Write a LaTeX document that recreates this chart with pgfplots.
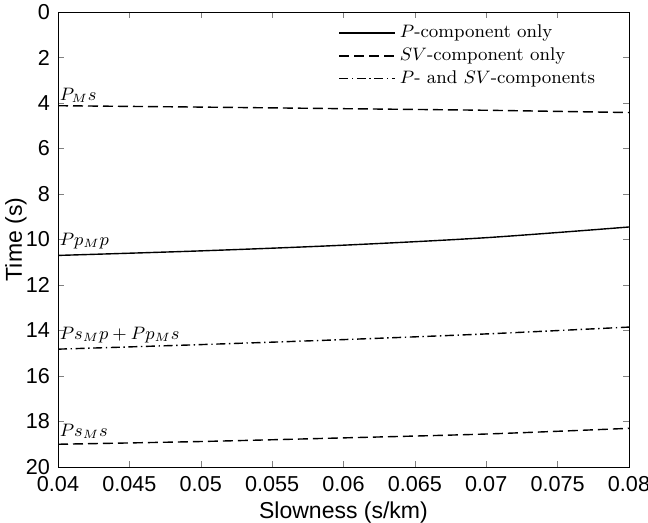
\documentclass[border=0pt]{standalone}
\usepackage{pgfplots}
\pgfplotsset{compat=1.18}
\usepackage{fontspec}
\newfontfamily\helv{Liberation Sans}
\begin{document}
\begin{tikzpicture}
\begin{axis}[
  scale only axis,
  width=285.5pt, height=227.5pt,
  xmin=0.04, xmax=0.08, ymin=0, ymax=20,
  y dir=reverse,
  xtick={0.04,0.045,...,0.0801},
  ytick={0,2,...,20},
  tick align=inside,
  major tick length=3pt,
  xticklabel style={/pgf/number format/fixed,/pgf/number format/precision=3, yshift=-1pt},
  yticklabel style={xshift=-0.5pt},
  scaled x ticks=false,
  tick label style={font=\helv\fontsize{10.8}{12}\selectfont},
  /pgf/number format/assume math mode=true,
  label style={font=\helv\fontsize{11.5}{13}\selectfont},
  xlabel={Slowness (s/km)},
  ylabel={Time (s)},
  every axis x label/.append style={at={([yshift=-23pt]axis description cs:0.5,0)}, anchor=center},
  every axis y label/.append style={at={([xshift=-21pt]axis description cs:0,0.5)}, anchor=center},
  legend style={draw=none, fill=none, at={(0.487,0.985)}, anchor=north west, font=\fontsize{9.2}{10}\selectfont, row sep=-0.5pt, inner sep=1pt},
  legend cell align=left,
  legend image code/.code={\draw[#1] (0pt,0pt) -- (28pt,0pt);},
  every axis plot/.append style={black, line width=0.7pt},
]
\coordinate (bl) at (axis description cs:0,0);
\coordinate (tr) at (axis description cs:1,1);
\addplot[solid, smooth] coordinates {(0.04,10.70) (0.05,10.50) (0.06,10.25) (0.07,9.92) (0.08,9.45)};
\addlegendentry{$P$-component only}
\addplot[dash pattern=on 5pt off 2.5pt, smooth] coordinates {(0.04,4.12) (0.05,4.18) (0.06,4.25) (0.07,4.32) (0.08,4.42)};
\addlegendentry{$SV$-component only}
\addplot[dash pattern=on 4.5pt off 1.8pt on 0.7pt off 1.8pt, smooth] coordinates {(0.04,14.82) (0.05,14.62) (0.06,14.40) (0.07,14.15) (0.08,13.85)};
\addlegendentry{$P$- and $SV$-components}
\addplot[dash pattern=on 5pt off 2.5pt, smooth, forget plot] coordinates {(0.04,19.0) (0.05,18.88) (0.06,18.72) (0.07,18.55) (0.08,18.30)};
\node[anchor=base west, inner sep=0pt, font=\fontsize{9.2}{10}\selectfont] at (axis cs:0.0401,3.9) {$P_Ms$};
\node[anchor=base west, inner sep=0pt, font=\fontsize{9.2}{10}\selectfont] at (axis cs:0.0401,10.25) {$Pp_Mp$};
\node[anchor=base west, inner sep=0pt, font=\fontsize{9.2}{10}\selectfont] at (axis cs:0.0401,14.4) {$Ps_Mp+Pp_Ms$};
\node[anchor=base west, inner sep=0pt, font=\fontsize{9.2}{10}\selectfont] at (axis cs:0.0401,18.65) {$Ps_Ms$};
\end{axis}
\pgfresetboundingbox
\path[use as bounding box] ([xshift=-29pt,yshift=-28pt]bl) rectangle ([xshift=9.5pt,yshift=6pt]tr);
\end{tikzpicture}
\end{document}
